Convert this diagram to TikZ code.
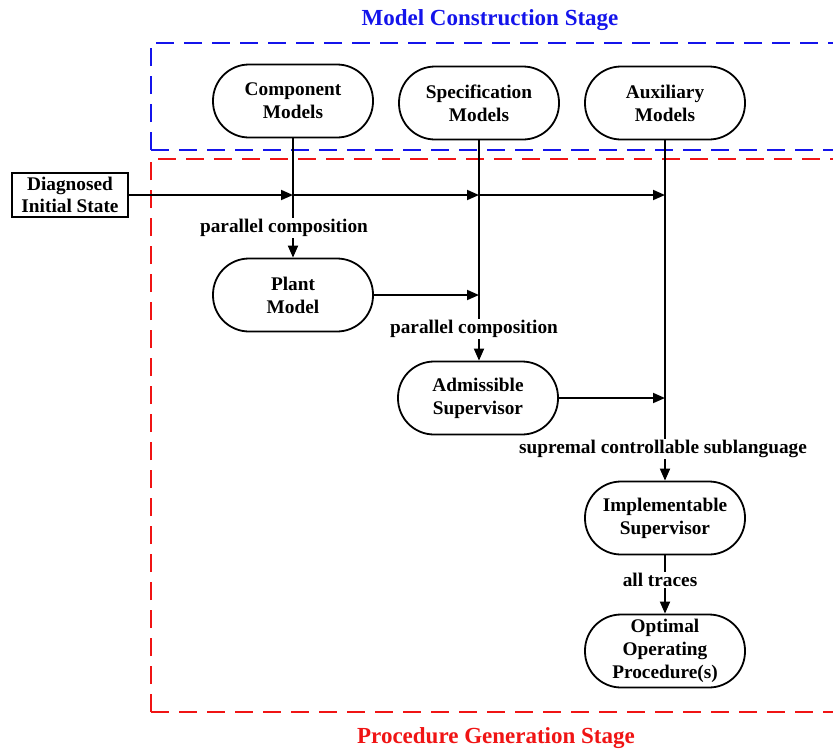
\documentclass[tikz,border=0pt]{standalone}
\usepackage{fontspec}
\setmainfont{Liberation Serif}
\usetikzlibrary{arrows.meta}
\definecolor{stageblue}{RGB}{20,20,235}
\definecolor{stagered}{RGB}{240,20,20}
\tikzset{
  stadium/.style={draw, line width=1.8pt, rounded corners=36pt,
    minimum width=160pt, minimum height=73pt, align=center,
    font=\fontsize{19.3}{23}\selectfont\bfseries, inner sep=0pt},
  plainbox/.style={draw, line width=1.8pt, minimum width=116pt,
    minimum height=44pt, align=center,
    font=\fontsize{19.3}{22}\selectfont\bfseries, inner sep=0pt},
  flow/.style={line width=1.8pt, -{Triangle[length=12pt,width=10pt]}},
  steplabel/.style={fill=white, inner sep=1.5pt,
    font=\fontsize{19.3}{22}\selectfont\bfseries},
  stagebox/.style={dash pattern=on 18pt off 10pt, line width=2.4pt},
  stagetitle/.style={font=\fontsize{23}{26}\selectfont\bfseries}
}
\begin{document}
\begin{tikzpicture}[x=1pt,y=-1pt]
\clip (0,0) rectangle (833,748);
\fill[white] (0,0) rectangle (833,748);

% stage frames and titles
\draw[stagebox, stageblue] (151,150) -- (151,43) -- (860,43)
  (151,150) -- (860,150);
\draw[stagebox, stagered] (151,712) -- (151,159) -- (860,159)
  (151,712) -- (860,712);
\node[stagetitle, text=stageblue] (t1) at (490,20) {Model Construction Stage};
\node[stagetitle, text=stagered] (t2) at (496,738) {Procedure Generation Stage};

% model sources
\node[stadium] (comp) at (293,101) {Component\\Models};
\node[stadium] (spec) at (479,103) {Specification\\Models};
\node[stadium] (aux)  at (665,103) {Auxiliary\\Models};
\node[plainbox] (dis) at (70,195) {Diagnosed\\Initial State};

% derived models
\node[stadium] (plant) at (293,295) {Plant\\Model};
\node[stadium] (adm)   at (478,398) {Admissible\\Supervisor};
\node[stadium] (impl)  at (665,518) {Implementable\\Supervisor};
\node[stadium] (opt)   at (665,651) {Optimal\\Operating\\Procedure(s)};

% junction points on the vertical lines
\coordinate (j1) at (comp.south |- dis.east);
\coordinate (j2) at (spec.south |- dis.east);
\coordinate (j3) at (aux.south |- dis.east);
\coordinate (j4) at (spec.south |- plant.east);
\coordinate (j5) at (aux.south |- adm.east);

% initial state feeds every branch
\draw[flow] (dis.east) -- (j1);
\draw[flow] (j1) -- (j2);
\draw[flow] (j2) -- (j3);

% vertical chains
\draw[flow] (comp.south) -- (plant.north);
\draw[flow] (spec.south) -- (spec.south |- adm.north);
\draw[flow] (aux.south) -- (impl.north);
\draw[flow] (impl.south) -- (opt.north);

% side feeds
\draw[flow] (plant.east) -- (j4);
\draw[flow] (adm.east) -- (j5);

% operation labels
\node[steplabel] (l1) at (284,228) {parallel composition};
\node[steplabel] (l2) at (474,329) {parallel composition};
\node[steplabel] (l3) at (663,449) {supremal controllable sublanguage};
\node[steplabel] (l4) at (660,580) {all traces};
\end{tikzpicture}
\end{document}
